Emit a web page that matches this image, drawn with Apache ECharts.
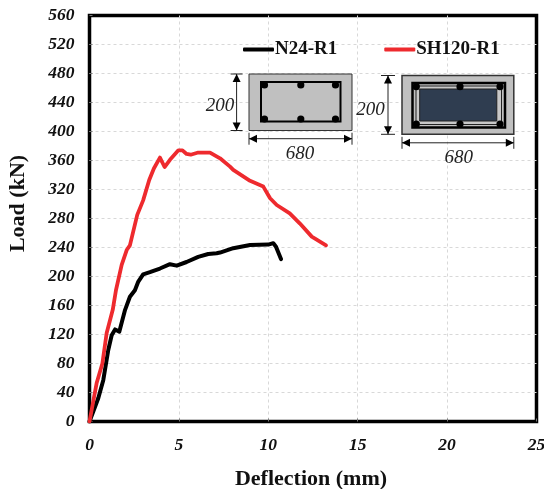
<!DOCTYPE html>
<html><head><meta charset="utf-8">
<style>html,body{margin:0;padding:0;background:#fff}#c{width:544px;height:489px}</style>
<script src="https://cdn.jsdelivr.net/npm/echarts@6/dist/echarts.min.js"></script>
</head><body><div id="c"></div>
<script>
const xTicks = { min: 0, max: 25, step: 5 };
const yTicks = { min: 0, max: 560, step: 40 };
const n24Name = 'N24-R1';
const sh120Name = 'SH120-R1';
const n24Deflection = [0,.49,.77,1.05,1.24,1.43,1.67,1.99,2.26,2.54,2.73,3.0,3.38,3.94,4.5,4.88,5.43,6.08,6.64,7.11,7.3,8.04,8.98,10.0,10.28,10.43,10.71];
const n24Load = [0,32,57,98.6,119,127,124,154,172,181,193,203,206,211,217,215,220,227,231,232,233,239,243.5,244,246,241,224];
const sh120Deflection = [0,.4,.72,.96,1.3,1.48,1.8,2.08,2.26,2.67,3.0,3.34,3.6,3.94,4.2,4.5,4.97,5.2,5.43,5.66,6.08,6.74,7.3,7.86,8.04,8.98,9.72,9.82,10.1,10.47,11.2,11.77,12.43,13.23];
const sh120Load = [0,53,80,122,154,181,216,236.5,243,285,305,333,349,364,351,361,374,374,369,368,371,371,363,351.5,347,332,324,321.6,308,298.6,287,273,255,243];

const serif = '"Liberation Serif"';
const zip = (a, b) => a.map((v, i) => [v, b[i]]);

function rect(x0, y0, x1, y1, fill, stroke, lw) {
  return { type: 'rect', shape: { x: x0, y: y0, width: x1 - x0, height: y1 - y0 }, style: { fill: fill, stroke: stroke, lineWidth: lw }, z: 10 };
}
function dot(x, y, r) {
  return { type: 'circle', shape: { cx: x, cy: y, r: r || 3.6 }, style: { fill: '#000' }, z: 12 };
}
function seg(x0, y0, x1, y1, lw) {
  return { type: 'line', shape: { x1: x0, y1: y0, x2: x1, y2: y1 }, style: { stroke: '#222', lineWidth: lw || 1 }, z: 11 };
}
function tri(pts) {
  return { type: 'polygon', shape: { points: pts }, style: { fill: '#000' }, z: 11 };
}
function vDim(x, y0, y1, hw) {
  return [seg(x, y0, x, y1), seg(x - hw, y0, x + hw, y0), seg(x - hw, y1, x + hw, y1),
    tri([[x, y0], [x - 4, y0 + 8], [x + 4, y0 + 8]]), tri([[x, y1], [x - 4, y1 - 8], [x + 4, y1 - 8]])];
}
function hDim(y, x0, x1, hh) {
  return [seg(x0, y, x1, y), seg(x0, y - hh, x0, y + hh), seg(x1, y - hh, x1, y + hh),
    tri([[x0, y], [x0 + 8, y - 4], [x0 + 8, y + 4]]), tri([[x1, y], [x1 - 8, y - 4], [x1 - 8, y + 4]])];
}
function label(t, x, y) {
  return { type: 'text', x: x, y: y, z: 13, style: { text: t, fill: '#222', font: 'italic 19px ' + serif, align: 'center', verticalAlign: 'middle' } };
}

const graphics = [
  rect(249, 74, 352, 130.5, '#c0c0c0', '#333', 1),
  rect(261, 82, 340.5, 121.5, 'none', '#000', 2),
  ...[264.5, 300.8, 335.5].flatMap(x => [dot(x, 85), dot(x, 119)]),
  ...vDim(236.6, 74, 130.5, 6),
  ...hDim(138.7, 249, 352, 6),
  label('200', 220, 106), label('680', 300, 154),

  rect(402, 75.5, 513.8, 134.3, '#c0c0c0', '#333', 1.5),
  rect(412.5, 83, 505, 127.5, 'none', '#000', 2.5),
  rect(416, 86, 501.5, 124.5, '#c8c8c8', '#222', 1),
  rect(419.7, 89, 496.8, 121, '#2f3d50', '#222', 1),
  ...[416.3, 460, 500].flatMap(x => [dot(x, 86.7), dot(x, 124)]),
  ...vDim(388, 75.5, 134.3, 7),
  ...hDim(142.8, 402, 513.8, 6),
  label('200', 370.5, 110), label('680', 458.8, 158)
];

const chart = echarts.init(document.getElementById('c'), null, { renderer: 'canvas' });
chart.setOption({
  animation: false,
  backgroundColor: '#fff',
  textStyle: { fontFamily: serif },
  grid: { left: 89.5, right: 7.5, top: 15.5, bottom: 67.5, show: true, borderColor: '#000', borderWidth: 3.5, outerBoundsMode: 'none' },
  legend: {
    left: 243, top: 40, padding: 0, itemWidth: 31, itemHeight: 4, itemGap: 47,
    icon: 'roundRect',
    data: [{ name: n24Name, itemStyle: { color: '#000' } }, { name: sh120Name, itemStyle: { color: '#ee2a2e' } }],
    textStyle: { fontFamily: serif, fontWeight: 'bold', fontSize: 19, color: '#111', padding: [0, 0, 0, -4] }
  },
  xAxis: {
    type: 'value', min: xTicks.min, max: xTicks.max, interval: xTicks.step,
    name: 'Deflection (mm)', nameLocation: 'middle', nameGap: 47,
    nameTextStyle: { fontFamily: serif, fontWeight: 'bold', fontSize: 22, color: '#111', padding: [0, 4, 0, 0] },
    axisLine: { show: false },
    axisTick: { show: true, inside: true, length: 3, lineStyle: { color: '#777' } },
    axisLabel: { fontFamily: serif, fontWeight: 'bold', fontStyle: 'italic', fontSize: 17.5, color: '#111', margin: 15, showMaxLabel: true },
    splitLine: { show: true, showMinLine: false, showMaxLine: false, lineStyle: { color: '#d8d8d8', type: [3, 3], width: 1 } }
  },
  yAxis: {
    type: 'value', min: yTicks.min, max: yTicks.max, interval: yTicks.step,
    name: 'Load (kN)', nameLocation: 'middle', nameGap: 60,
    nameTextStyle: { fontFamily: serif, fontWeight: 'bold', fontSize: 22, color: '#111', padding: [0, 0, 0, 30] },
    axisLine: { show: false },
    axisTick: { show: true, inside: true, length: 3, lineStyle: { color: '#777' } },
    axisLabel: { fontFamily: serif, fontWeight: 'bold', fontStyle: 'italic', fontSize: 17.5, color: '#111', margin: 15 },
    splitLine: { show: true, showMinLine: false, showMaxLine: false, lineStyle: { color: '#d8d8d8', type: [3, 3], width: 1 } }
  },
  series: [
    { name: n24Name, type: 'line', showSymbol: false, symbol: 'none', z: 3, data: zip(n24Deflection, n24Load), lineStyle: { color: '#000', width: 4, cap: 'round', join: 'round' }, itemStyle: { color: '#000' } },
    { name: sh120Name, type: 'line', showSymbol: false, symbol: 'none', z: 4, data: zip(sh120Deflection, sh120Load), lineStyle: { color: '#ee2a2e', width: 3.8, cap: 'round', join: 'round' }, itemStyle: { color: '#ee2a2e' } }
  ],
  graphic: graphics
});
</script></body></html>
